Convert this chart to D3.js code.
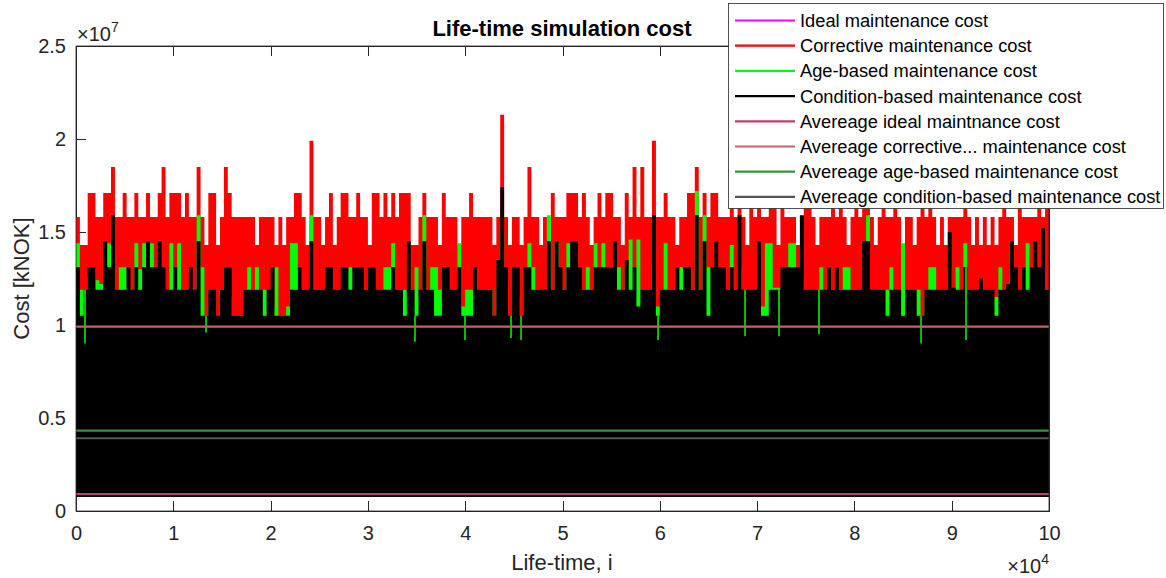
<!DOCTYPE html>
<html>
<head>
<meta charset="utf-8">
<script src="https://cdn.jsdelivr.net/npm/d3@7"></script>
<style>
body{margin:0;background:#fff;}
svg{display:block;font-family:"Liberation Sans",Arial,Helvetica,sans-serif;}
</style>
</head>
<body>
<svg id="chart"></svg>
<script>
// every value is in millions of kNOK, one value per block of binSize iterations
var binSize=400;
var lifeEnd=100000;
var floorValue=0.75;

var correctiveTop=[
15.8,14.3,14.3,17.1,17.1,15.8,15.8,17.1,17.1,18.5,15.8,15.8,17.1,15.8,15.8,17.1,15.8,15.8,17.1,15.8,
15.8,17.1,18.5,15.8,17.1,17.1,17.1,15.8,17.1,15.8,15.8,18.5,15.8,14.3,17.1,17.1,14.3,15.8,18.5,17.1,
15.8,15.8,
15.8,15.8,15.8,15.8,14.3,15.8,15.8,15.8,15.8,14.3,15.8,14.3,15.8,15.8,17.1,17.1,15.8,14.3,19.9,15.8,
15.8,14.3,15.8,17.1,14.3,15.8,17.1,17.1,15.8,15.8,17.1,15.8,15.8,14.3,17.1,17.1,15.8,17.1,15.8,17.1,
15.8,17.1,
17.1,17.1,14.3,14.3,15.8,17.1,15.8,15.8,15.8,14.3,17.1,15.8,15.8,15.8,14.3,15.8,15.8,17.1,15.8,15.8,
15.8,15.8,15.8,14.3,15.8,21.3,15.8,14.3,15.8,15.8,14.3,15.8,18.5,15.8,15.8,14.3,15.8,14.3,17.1,15.8,
15.8,
15.8,17.1,17.1,17.1,15.8,17.1,15.8,14.3,15.8,17.1,15.8,17.1,17.1,15.8,15.8,14.3,17.1,15.8,18.5,15.8,
18.5,15.8,15.8,19.9,15.8,15.8,17.1,15.8,15.8,14.3,15.8,15.8,17.1,17.1,18.5,15.8,17.1,15.8,17.1,17.1,
15.8,15.8,
15.8,17.1,15.8,17.1,15.8,14.3,17.1,15.8,17.1,15.8,15.8,17.1,17.1,14.3,17.1,15.8,15.8,15.8,14.3,15.8,
17.1,18.5,15.8,14.3,15.8,15.8,15.8,17.1,15.8,17.1,15.8,14.3,15.8,18.5,15.8,17.1,17.1,15.8,14.3,15.8,
17.1,15.8,
15.8,17.1,15.8,14.3,15.8,15.8,14.3,15.8,17.1,15.8,17.1,15.8,14.3,15.8,14.3,15.8,15.8,15.8,15.8,17.1,
15.8,14.3,15.8,14.3,15.8,14.3,15.8,14.3,15.8,17.1,15.8,15.8,14.3,17.1,15.8,15.8,15.8,15.8,17.1,15.8,
17.1];

var ageTop=[
14.4,11.9,11.0,12.6,13.1,12.4,12.2,11.9,14.4,13.1,11.5,13.1,13.1,12.0,11.5,14.4,13.0,14.4,13.0,14.4,
11.5,12.0,11.5,11.5,14.4,13.0,14.4,11.0,11.5,12.0,11.5,15.9,13.1,10.5,11.0,11.5,10.0,11.9,13.1,11.5,
10.5,10.5,
10.5,11.9,13.1,11.9,13.1,11.9,11.9,10.5,11.0,13.1,10.5,10.5,11.0,14.4,14.4,13.1,11.9,11.0,15.9,11.9,
11.9,11.0,11.9,11.5,11.5,11.9,11.9,13.1,13.1,13.1,11.9,11.9,11.9,13.1,11.9,11.5,11.9,13.1,13.1,14.4,
11.9,11.9,
11.9,11.5,11.9,13.1,11.5,15.9,11.9,13.1,13.1,11.9,12.5,11.5,11.5,11.9,14.4,11.0,11.9,11.9,11.9,11.5,
11.9,11.9,11.9,10.0,12.0,15.0,12.0,10.0,13.1,11.5,10.0,11.9,14.4,13.1,11.9,11.5,11.5,15.9,11.9,14.4,
12.0,
11.9,14.4,13.1,14.4,13.1,11.9,13.1,11.9,14.4,11.9,14.4,13.1,13.1,13.1,13.1,11.9,13.1,14.6,13.1,14.6,
11.9,11.9,11.5,13.5,11.0,11.0,14.4,11.9,11.9,11.9,13.1,11.9,11.9,11.9,17.2,11.9,15.9,13.1,13.1,13.1,
11.9,11.9,
11.9,14.3,11.9,13.1,11.5,11.5,11.5,11.5,11.9,11.0,14.4,14.4,12.0,12.0,11.9,13.1,14.4,14.4,13.1,12.5,
11.5,11.5,11.5,11.9,13.1,11.9,11.5,11.9,11.9,11.9,13.1,13.1,11.9,11.9,11.5,11.9,15.9,11.5,11.5,11.9,
11.9,11.9,
13.1,11.0,11.5,14.4,11.9,11.5,11.9,11.9,10.5,11.5,13.1,13.1,11.5,11.5,11.5,13.1,11.5,13.1,11.5,14.4,
11.9,11.5,11.5,11.5,11.5,11.5,11.5,11.5,13.1,11.5,11.5,11.5,11.5,11.5,13.1,14.4,13.1,13.1,11.9,13.1,
11.9];

var conditionTop=[
13.1,10.5,11.9,13.1,13.1,11.9,11.9,14.5,13.1,15.9,11.9,11.9,11.9,13.1,11.9,13.1,11.9,13.1,14.5,13.1,
13.1,14.5,13.1,11.9,11.9,13.1,11.9,11.9,11.9,13.1,11.9,14.5,10.5,10.5,11.9,11.9,10.5,11.9,13.1,13.1,
10.5,10.5,
10.5,11.9,11.9,11.9,11.9,11.9,10.5,11.9,13.1,10.5,10.5,10.5,10.5,11.9,11.9,13.1,11.9,11.9,14.5,11.9,
11.9,11.9,13.1,13.1,11.9,11.9,13.1,13.1,11.9,13.1,13.1,13.1,11.9,13.1,13.1,11.9,11.9,11.9,11.9,13.1,
11.9,11.9,
10.5,14.5,11.9,10.5,11.9,14.5,11.9,11.9,10.5,10.5,13.1,13.1,11.9,11.9,13.1,10.5,10.5,10.5,13.1,11.9,
11.9,11.9,11.9,10.5,13.5,17.4,13.1,10.5,13.1,13.1,10.5,13.1,13.1,11.9,11.9,11.9,11.9,14.5,11.9,14.5,
13.1,
11.9,13.1,14.5,14.5,13.1,11.9,11.9,11.9,13.1,13.1,13.1,13.1,13.1,14.5,11.9,11.9,13.5,11.9,13.1,11.0,
11.9,11.9,11.9,15.9,10.5,11.9,11.9,11.9,11.9,13.1,11.9,13.1,13.1,11.9,15.9,11.9,14.5,10.5,13.1,14.5,
13.1,13.1,
11.9,13.1,11.9,15.9,11.9,11.9,11.9,11.9,14.5,10.5,10.5,11.9,11.9,11.9,13.1,13.1,13.1,13.1,13.1,15.9,
11.9,11.9,11.9,11.9,11.9,11.9,13.1,11.9,13.1,11.9,11.9,11.9,11.9,11.9,11.9,14.5,14.5,11.9,11.9,11.9,
11.9,10.5,
11.9,11.9,11.9,10.5,11.9,11.9,11.9,10.5,10.5,11.9,11.9,11.9,11.9,11.9,11.9,15.0,12.0,11.9,11.9,13.1,
11.9,11.9,11.9,12.5,11.9,11.9,11.9,10.5,11.9,11.9,12.2,14.5,13.1,11.9,13.1,11.9,13.1,14.5,13.1,15.2,
11.9];

// thin age-based drops that show through the black band
var ageDipAt=[925,13360,34840,39980,44710,45740,59820,68760,72250,76360,86850,91470];
var ageDipLow=[9.0,9.6,9.1,9.2,9.3,9.2,9.2,9.4,9.4,9.5,9.0,9.2];

var legendNames=["Ideal maintenance cost","Corrective maintenance cost","Age-based maintenance cost",
"Condition-based maintenance cost","Avereage ideal maintnance cost","Avereage corrective... maintenance cost",
"Avereage age-based maintenance cost","Avereage condition-based maintenance cost"];
var legendColors=["#ff00ff","#ff0000","#00ff00","#000000","#bf3f6c","#c06466","#3f8f40","#555555"];

// averages: ideal, corrective, age-based, condition-based
var averageValues=[0.91,9.91,4.32,3.91];
var averageColors=["#bf3f6c","#c06466","#3f8f40","#555555"];

var xTicks=[0,10000,20000,30000,40000,50000,60000,70000,80000,90000,100000];
var yTicks=[0,5e6,1e7,1.5e7,2e7,2.5e7];

var screen={width:1166,height:578}
var plot={left:76,right:1049,top:46,bottom:511}
var axisColor="#262626";

var svg=d3.select("#chart")
    .attr("width",screen.width)
    .attr("height",screen.height)

var xScale=d3.scaleLinear()
    .domain([0,lifeEnd])
    .range([plot.left,plot.right])
var yScale=d3.scaleLinear()
    .domain([0,2.5e7])
    .range([plot.bottom,plot.top])

var styleAxis=function(g){
    g.selectAll("path,line").attr("stroke",axisColor).attr("shape-rendering","crispEdges")
    g.selectAll("text").attr("fill",axisColor).attr("font-size",20)
}

// axes go under the data like matlab's default layer
svg.append("g")
    .attr("transform","translate(0,"+plot.bottom+")")
    .call(d3.axisBottom(xScale).tickValues(xTicks).tickFormat(function(d){return d/1e4})
        .tickSizeInner(-10).tickSizeOuter(0).tickPadding(15))
    .call(styleAxis)
svg.append("g")
    .attr("transform","translate(0,"+plot.top+")")
    .call(d3.axisTop(xScale).tickValues(xTicks).tickFormat("")
        .tickSizeInner(-10).tickSizeOuter(0))
    .call(styleAxis)
svg.append("g")
    .attr("transform","translate("+plot.left+",0)")
    .call(d3.axisLeft(yScale).tickValues(yTicks).tickFormat(function(d){return d/1e7})
        .tickSizeInner(-10).tickSizeOuter(0).tickPadding(10))
    .call(styleAxis)
svg.append("g")
    .attr("transform","translate("+plot.right+",0)")
    .call(d3.axisRight(yScale).tickValues(yTicks).tickFormat("")
        .tickSizeInner(-10).tickSizeOuter(0))
    .call(styleAxis)

var drawBand=function(tops,color){
    var pts=tops.concat([tops[tops.length-1]])
    var area=d3.area()
        .curve(d3.curveStepAfter)
        .x(function(d,i){return xScale(Math.min(i*binSize,lifeEnd))})
        .y0(yScale(floorValue*1e6))
        .y1(function(d){return yScale(d*1e6)})
    svg.append("path")
        .datum(pts)
        .attr("d",area)
        .attr("fill",color)
}
drawBand(correctiveTop,"#ff0000")
drawBand(ageTop,"#00ff00")
drawBand(conditionTop,"#000000")

svg.append("g").selectAll("line")
    .data(ageDipAt)
    .enter()
    .append("line")
    .attr("x1",function(d){return xScale(d)})
    .attr("x2",function(d){return xScale(d)})
    .attr("y1",function(d,i){return yScale(ageDipLow[i]*1e6)})
    .attr("y2",function(d){return yScale(conditionTop[Math.floor(d/binSize)]*1e6)})
    .attr("stroke","#00ff00")
    .attr("stroke-width",1.5)

svg.append("g").selectAll("line")
    .data(averageValues)
    .enter()
    .append("line")
    .attr("x1",xScale(0))
    .attr("x2",xScale(lifeEnd))
    .attr("y1",function(d){return yScale(d*1e6)})
    .attr("y2",function(d){return yScale(d*1e6)})
    .attr("stroke",function(d,i){return averageColors[i]})
    .attr("stroke-width",2.2)

// box lines
svg.append("rect")
    .attr("x",plot.left).attr("y",plot.top)
    .attr("width",plot.right-plot.left).attr("height",plot.bottom-plot.top)
    .attr("fill","none").attr("stroke",axisColor).attr("stroke-width",0.8)

// exponent labels
var yExp=svg.append("text").attr("x",plot.left+1).attr("y",41).attr("fill",axisColor).attr("font-size",20)
yExp.append("tspan").text("\u00d710")
yExp.append("tspan").attr("font-size",14).attr("dy",-9).text("7")
var xExp=svg.append("text").attr("x",plot.right).attr("y",573).attr("text-anchor","end").attr("fill",axisColor).attr("font-size",20)
xExp.append("tspan").text("\u00d710")
xExp.append("tspan").attr("font-size",14).attr("dy",-9).text("4")

svg.append("text")
    .attr("x",562).attr("y",36)
    .attr("text-anchor","middle")
    .attr("font-size",22).attr("font-weight","bold")
    .attr("fill","#000")
    .text("Life-time simulation cost")
svg.append("text")
    .attr("x",562).attr("y",570)
    .attr("text-anchor","middle")
    .attr("font-size",22).attr("fill",axisColor)
    .text("Life-time, i")
svg.append("text")
    .attr("transform","translate(29,"+((plot.top+plot.bottom)/2)+") rotate(-90)")
    .attr("text-anchor","middle")
    .attr("font-size",22).attr("fill",axisColor)
    .text("Cost [kNOK]")

// legend
var legend=svg.append("g")
legend.append("rect")
    .attr("x",728.5).attr("y",3.5).attr("width",435).attr("height",205)
    .attr("fill","#fff").attr("stroke",axisColor).attr("stroke-width",0.8)
var rows=legend.selectAll("g.row")
    .data(legendNames)
    .enter()
    .append("g")
    .attr("class","row")
    .attr("transform",function(d,i){return "translate(0,"+(20.5+i*25.2)+")"})
rows.append("line")
    .attr("x1",735).attr("x2",795)
    .attr("stroke",function(d,i){return legendColors[i]})
    .attr("stroke-width",2.2)
rows.append("text")
    .attr("x",800).attr("dy","0.35em")
    .attr("font-size",18.3).attr("fill","#000")
    .text(function(d){return d})
</script>
</body>
</html>
